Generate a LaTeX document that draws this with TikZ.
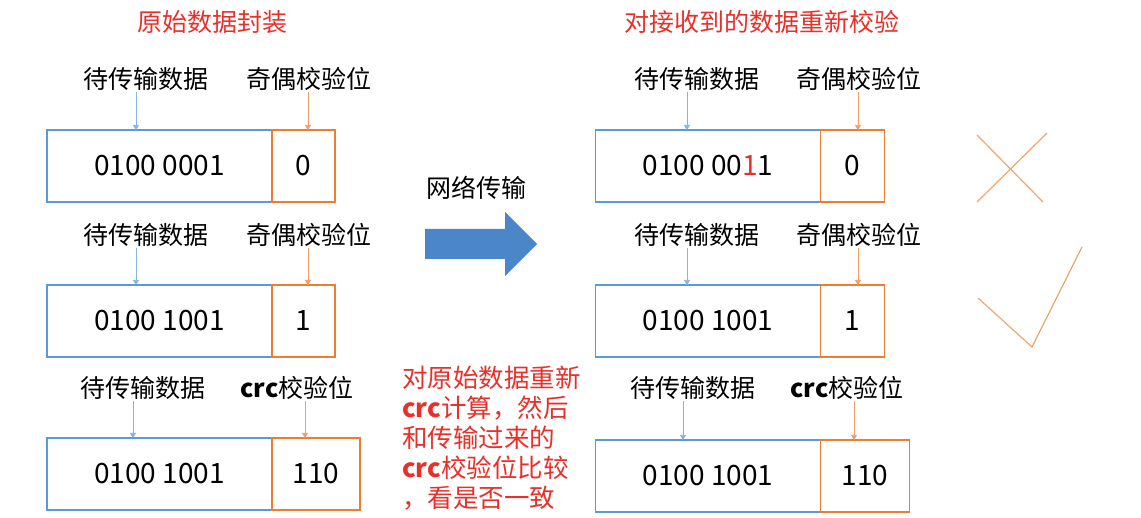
\documentclass[tikz,border=0pt]{standalone}
\usepackage{fontspec}
\setmainfont{Noto Sans CJK SC}
\usetikzlibrary{arrows.meta, positioning}
\definecolor{BoxBlue}{HTML}{5B9BD5}
\definecolor{BoxOrange}{HTML}{ED7D31}
\definecolor{ArrowBlue}{HTML}{4A86C8}
\definecolor{NoteRed}{HTML}{E8302A}
\definecolor{MarkOrange}{HTML}{F2A66B}

\begin{document}
\begin{tikzpicture}[x=1pt, y=-1pt,
        lbl/.style={font=\fontsize{25}{28}\selectfont, inner sep=0pt},
        ttl/.style={lbl, text=NoteRed},
        dat/.style={draw=BoxBlue, line width=1.2pt, minimum width=225pt,
                    minimum height=72pt, inner sep=0pt, outer sep=0pt,
                    font=\fontsize{28}{30}\selectfont},
        chk/.style={dat, draw=BoxOrange, minimum width=63pt},
        ba/.style={-{Triangle[length=5pt, width=6pt]}, draw=BoxBlue!75,
                   line width=0.7pt, shorten <=1pt},
        oa/.style={ba, draw=BoxOrange!75},
        mk/.style={draw=MarkOrange, line width=1.2pt},
      ]
        \useasboundingbox (0,0) rectangle (1141,518);
        % 发送端
        \node[ttl] (t1) at (212,22) {原始数据封装};
        \node[lbl] (l1) at (146,79) {待传输数据};
        \node[lbl] (k1) at (309,79) {奇偶校验位};
        \node[dat] (d1) at (159.5,166) {0100 0001};
        \node[chk, right=0pt of d1] (c1) {0};
        \draw[ba] ([xshift=-10pt]l1.south) -- ([xshift=-10pt]l1.south |- d1.north);
        \draw[oa] ([xshift=-1pt]k1.south) -- ([xshift=-1pt]k1.south |- c1.north);

        \node[lbl] (l2) at (146,235) {待传输数据};
        \node[lbl] (k2) at (309,235) {奇偶校验位};
        \node[dat] (d2) at (159.5,321) {0100 1001};
        \node[chk, right=0pt of d2] (c2) {1};
        \draw[ba] ([xshift=-10pt]l2.south) -- ([xshift=-10pt]l2.south |- d2.north);
        \draw[oa] ([xshift=-1pt]k2.south) -- ([xshift=-1pt]k2.south |- c2.north);

        \node[lbl] (l3) at (143,388) {待传输数据};
        \node[lbl] (k3) at (297,388) {\textbf{crc}校验位};
        \node[dat] (d3) at (159.5,474) {0100 1001};
        \node[chk, minimum width=88pt, right=0pt of d3] (c3) {110};
        \draw[ba] ([xshift=-10pt]l3.south) -- ([xshift=-10pt]l3.south |- d3.north);
        \draw[oa] ([xshift=8pt]k3.south) -- ([xshift=8pt]k3.south |- c3.north);

        % 网络传输
        \node[lbl] (net) at (476,188) {网络传输};
        \fill[ArrowBlue] (425,229) -- (505,229) -- (505,212) -- (537,244)
          -- (505,276) -- (505,259) -- (425,259) -- cycle;
        \node[lbl, text=NoteRed, align=left, anchor=north west,
              font=\fontsize{25.5}{30}\selectfont] (note) at (402,366)
          {对原始数据重新\\\textbf{crc}计算，然后\\和传输过来的\\\textbf{crc}校验位比较\\，看是否一致};

        % 接收端
        \node[ttl] (t2) at (762,22) {对接收到的数据重新校验};
        \node[lbl] (r1) at (697,79) {待传输数据};
        \node[lbl] (q1) at (859,79) {奇偶校验位};
        \node[dat] (e1) at (708,166) {0100 00{\color{NoteRed}1}1};
        \node[chk, minimum width=64pt, right=0pt of e1] (f1) {0};
        \draw[ba] ([xshift=-10pt]r1.south) -- ([xshift=-10pt]r1.south |- e1.north);
        \draw[oa] ([xshift=-1pt]q1.south) -- ([xshift=-1pt]q1.south |- f1.north);

        \node[lbl] (r2) at (697,235) {待传输数据};
        \node[lbl] (q2) at (859,235) {奇偶校验位};
        \node[dat] (e2) at (708,321) {0100 1001};
        \node[chk, minimum width=64pt, right=0pt of e2] (f2) {1};
        \draw[ba] ([xshift=-10pt]r2.south) -- ([xshift=-10pt]r2.south |- e2.north);
        \draw[oa] ([xshift=-1pt]q2.south) -- ([xshift=-1pt]q2.south |- f2.north);

        \node[lbl] (r3) at (693,388) {待传输数据};
        \node[lbl] (q3) at (847,388) {\textbf{crc}校验位};
        \node[dat] (e3) at (708,476) {0100 1001};
        \node[chk, minimum width=89pt, right=0pt of e3] (f3) {110};
        \draw[ba] ([xshift=-10pt]r3.south) -- ([xshift=-10pt]r3.south |- e3.north);
        \draw[oa] ([xshift=7pt]q3.south) -- ([xshift=7pt]q3.south |- f3.north);

        % 结果标记
        \draw[mk] (977,135) -- (1043,202);
        \draw[mk] (1047,133) -- (977,202);
        \draw[mk] (978,298) -- (1032,347) -- (1082,247);
      \end{tikzpicture}
\end{document}
